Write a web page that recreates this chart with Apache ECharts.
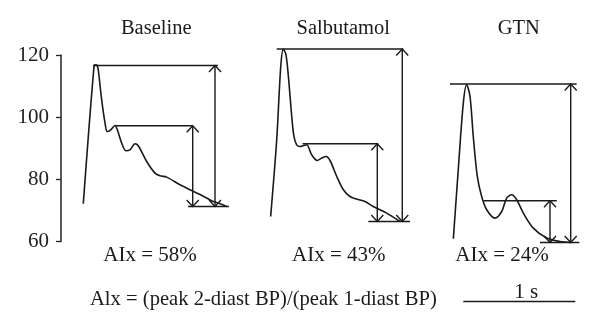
<!DOCTYPE html>
<html>
<head>
<meta charset="utf-8">
<script src="https://cdn.jsdelivr.net/npm/echarts@6/dist/echarts.min.js"></script>
<style>html,body{margin:0;padding:0;background:#fff}#c{width:600px;height:332px}</style>
</head>
<body>
<div id="c"></div>
<script>
// ---- data (time in s, pressure in mmHg) ----
const titles = ['Baseline', 'Salbutamol', 'GTN'];
const aixValues = ['58%', '43%', '24%'];
const formulaText = 'Alx = (peak 2-diast BP)/(peak 1-diast BP)';
const yTicks = [60, 80, 100, 120];

const baselineWave = [
  [0.199,72.15],[0.295,116.5],[0.31,116.9],[0.324,116.6],[0.333,115.3],[0.363,105.7],[0.393,98.2],
  [0.413,95.45],[0.444,96.0],[0.482,97.38],[0.503,96.0],[0.542,91.7],[0.580,89.23],
  [0.616,89.55],[0.661,91.49],[0.690,90.84],[0.765,85.78],[0.839,82.04],[0.884,81.17],
  [0.944,80.75],[1.0625,78.27],[1.226,75.37],[1.301,73.99],[1.360,72.89],[1.420,72.15],[1.479,71.28]
];
const salbutamolWave = [
  [1.872,68.06],[1.926,92.77],[1.962,116.4],[1.985,122.0],[2.009,120.17],[2.033,112.11],
  [2.060,100.28],[2.080,93.84],[2.104,91.16],[2.134,90.62],[2.163,90.84],[2.194,91.16],
  [2.238,87.94],[2.288,86.10],[2.328,86.88],[2.366,87.39],[2.402,86.10],[2.462,80.95],
  [2.521,76.66],[2.580,74.50],[2.640,73.66],[2.714,72.89],[2.788,71.28],[2.908,69.15],[3.027,66.45]
];
const gtnWave = [
  [3.503,60.87],[3.547,83.11],[3.592,104.6],[3.622,110.5],[3.652,106.73],[3.681,93.84],
  [3.717,80.95],[3.756,74.50],[3.801,70.22],[3.875,67.54],[3.935,69.67],[3.979,73.99],
  [4.024,75.05],[4.069,73.44],[4.128,69.15],[4.217,64.32],[4.337,61.10],[4.455,60.0],[4.560,59.68]
];
// horizontal reference levels: [tStart, tEnd, pressure]
const levelLines = [
  [0.286,1.402,116.72],[0.482,1.176,97.29],[1.134,1.500,71.28],
  [1.926,3.056,122.0],[2.157,2.833,91.49],[2.744,3.116,66.45],
  [3.473,4.604,110.73],[3.771,4.426,73.12],[4.277,4.628,59.68]
];
// double arrows: [t, pressureTop, pressureBottom]
const arrows = [
  [1.176,97.29,71.28],[1.375,116.72,71.28],
  [2.824,91.49,66.45],[3.047,122.0,66.45],
  [4.366,73.12,59.68],[4.551,110.73,59.68]
];
// 1 s scale bar: [tStart, tEnd, pressure-level]
const scaleBar = [[3.592,4.592,40.66]];
const scaleLabel = '1 s';

const FONT = '"Liberation Serif", "DejaVu Serif", serif';
const INK = '#1a1a1a';

const chart = echarts.init(document.getElementById('c'), null, {renderer:'canvas'});

function waveSeries(d){
  return {type:'line', data:d, symbol:'none', smooth:0.3, clip:false,
    lineStyle:{color:INK, width:1.6}, silent:true, z:3};
}
function txt(x, y, text, size, align){
  return {type:'text', x:x, y:y, style:{text:text, font:size+'px '+FONT, fill:INK,
    textAlign:align || 'center', textVerticalAlign:'middle'}};
}

const option = {
  animation:false,
  backgroundColor:'#fff',
  grid:{left:61, top:55.3, width:537.6, height:186.2, containLabel:false, outerBoundsMode:'none'},
  xAxis:{type:'value', min:0, max:4.8, show:false},
  yAxis:{type:'value', min:60, max:120, interval:20,
    axisLine:{show:true, lineStyle:{color:'#222', width:1.5}},
    axisTick:{show:true, length:5, lineStyle:{color:'#222', width:1.3}},
    splitLine:{show:false},
    axisLabel:{fontFamily:FONT, fontSize:21, color:'#222', margin:12,
      formatter:v => yTicks.includes(v) ? String(v) : ''}
  },
  series:[
    waveSeries(baselineWave), waveSeries(salbutamolWave), waveSeries(gtnWave),
    {type:'custom', data:levelLines.concat(scaleBar), clip:false, silent:true, z:2,
      renderItem:(params, api)=>{
        const a = api.coord([api.value(0), api.value(2)]);
        const b = api.coord([api.value(1), api.value(2)]);
        return {type:'line', shape:{x1:a[0], y1:a[1], x2:b[0], y2:b[1]},
          style:{stroke:INK, lineWidth:1.5}};
      }},
    {type:'custom', data:arrows, clip:false, silent:true, z:2,
      renderItem:(params, api)=>{
        const p = api.coord([api.value(0), api.value(1)]);
        const q = api.coord([api.value(0), api.value(2)]);
        const w = 6, h = 6.5;
        const st = {stroke:INK, lineWidth:1.4, fill:null};
        return {type:'group', children:[
          {type:'line', shape:{x1:p[0], y1:p[1], x2:q[0], y2:q[1]}, style:st},
          {type:'polyline', shape:{points:[[p[0]-w,p[1]+h],[p[0],p[1]],[p[0]+w,p[1]+h]]}, style:st},
          {type:'polyline', shape:{points:[[q[0]-w,q[1]-h],[q[0],q[1]],[q[0]+w,q[1]-h]]}, style:st}
        ]};
      }}
  ],
  graphic:[
    txt(156.2, 29, titles[0], 20.5),
    txt(343.3, 29, titles[1], 20.5),
    txt(518.8, 29, titles[2], 20.5),
    txt(150, 255, 'AIx = '+aixValues[0], 21),
    txt(338.8, 255, 'AIx = '+aixValues[1], 21),
    txt(502, 255, 'AIx = '+aixValues[2], 21),
    txt(90, 300, formulaText, 20.6, 'left'),
    txt(526.3, 292, scaleLabel, 21)
  ]
};
chart.setOption(option);
</script>
</body>
</html>
